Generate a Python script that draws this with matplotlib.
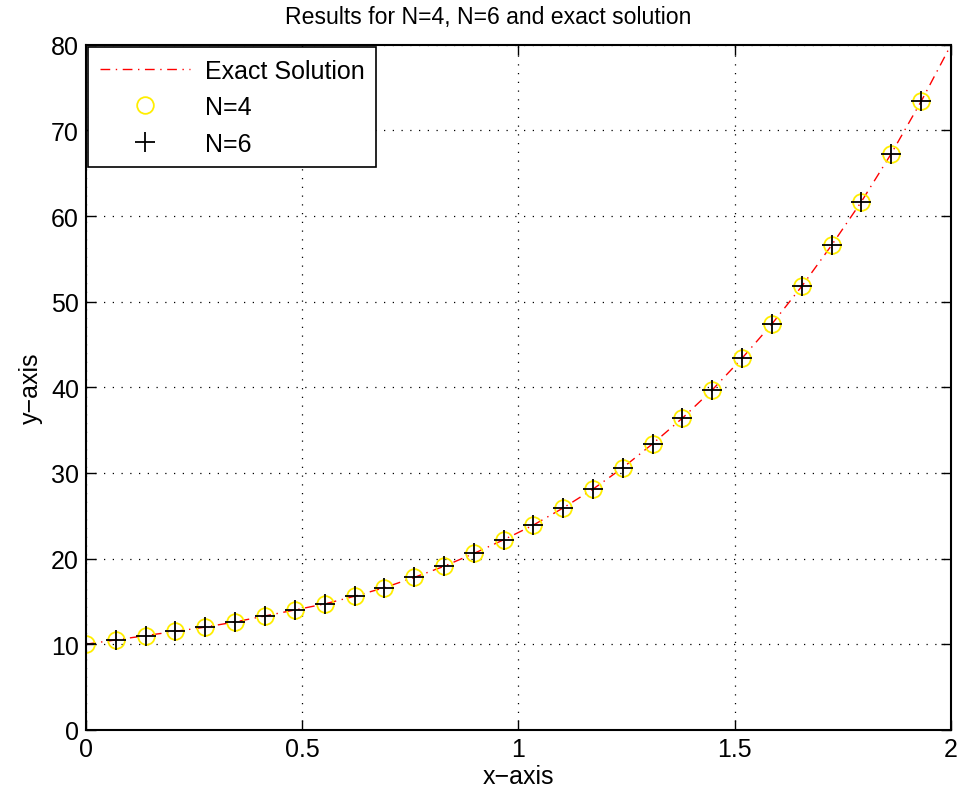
import numpy as np
import matplotlib.pyplot as plt

plt.rcParams['font.family'] = ['Liberation Sans', 'DejaVu Sans']

# sample points (N=4 and N=6 lie on the same points)
x_pts = [0.0, 0.069, 0.138, 0.207, 0.276, 0.345, 0.414, 0.483, 0.552, 0.621,
         0.690, 0.759, 0.828, 0.897, 0.966, 1.034, 1.103, 1.172, 1.241, 1.310,
         1.379, 1.448, 1.517, 1.586, 1.655, 1.724, 1.793, 1.862, 1.931]
y_n4 = [10.0, 10.5, 11.0, 11.5, 12.0, 12.6, 13.3, 14.0, 14.7, 15.6,
        16.6, 17.8, 19.1, 20.6, 22.2, 23.9, 25.9, 28.1, 30.6, 33.4,
        36.4, 39.7, 43.4, 47.4, 51.8, 56.6, 61.7, 67.3, 73.4]
y_n6 = [10.0, 10.5, 11.0, 11.5, 12.0, 12.6, 13.3, 14.0, 14.7, 15.6,
        16.6, 17.8, 19.1, 20.6, 22.2, 23.9, 25.9, 28.1, 30.6, 33.4,
        36.4, 39.7, 43.4, 47.4, 51.8, 56.6, 61.7, 67.3, 73.4]
x_exact = x_pts + [2.0]
y_exact = y_n4 + [80.0]

fig = plt.figure(figsize=(9.65, 8.04), dpi=100)
ax = fig.add_axes([0.089, 0.091, 0.8965, 0.852])

ax.plot(x_exact, y_exact, color='red', linestyle=(0, (7, 4, 1, 4)), linewidth=1,
        label='Exact Solution')
ax.plot(x_pts, y_n4, linestyle='none', marker='o', markersize=12, markerfacecolor='none',
        markeredgecolor='#ffee00', markeredgewidth=1.3, label='N=4')
ax.plot(x_pts, y_n6, linestyle='none', marker='+', markersize=15, color='black',
        markeredgewidth=1.3, label='N=6')

ax.set_xlim(0, 2)
ax.set_ylim(0, 80)
ax.set_xticks([0, 0.5, 1, 1.5, 2])
ax.set_xticklabels(['0', '0.5', '1', '1.5', '2'])
ax.set_yticks(range(0, 81, 10))
ax.tick_params(direction='in', top=True, right=True, labelsize=18, length=7, width=1, pad=5)
ax.grid(True, color='black', linestyle=(0, (1, 6)), linewidth=0.9)
for s in ax.spines.values():
    s.set_linewidth(1.5)

ax.set_title('Results for N=4, N=6 and exact solution', fontsize=16.6, pad=16, x=0.465)
ax.set_xlabel('x\u2212axis', fontsize=18, labelpad=2)
ax.set_ylabel('y\u2212axis', fontsize=18, labelpad=6)

leg = ax.legend(loc='upper left', fontsize=18, fancybox=False, framealpha=1,
                edgecolor='black', borderaxespad=0.1, handlelength=3.6,
                handletextpad=0.6, borderpad=0.45, labelspacing=0.5)
leg.get_frame().set_linewidth(1.2)

fig.savefig('out.png', dpi=100)
